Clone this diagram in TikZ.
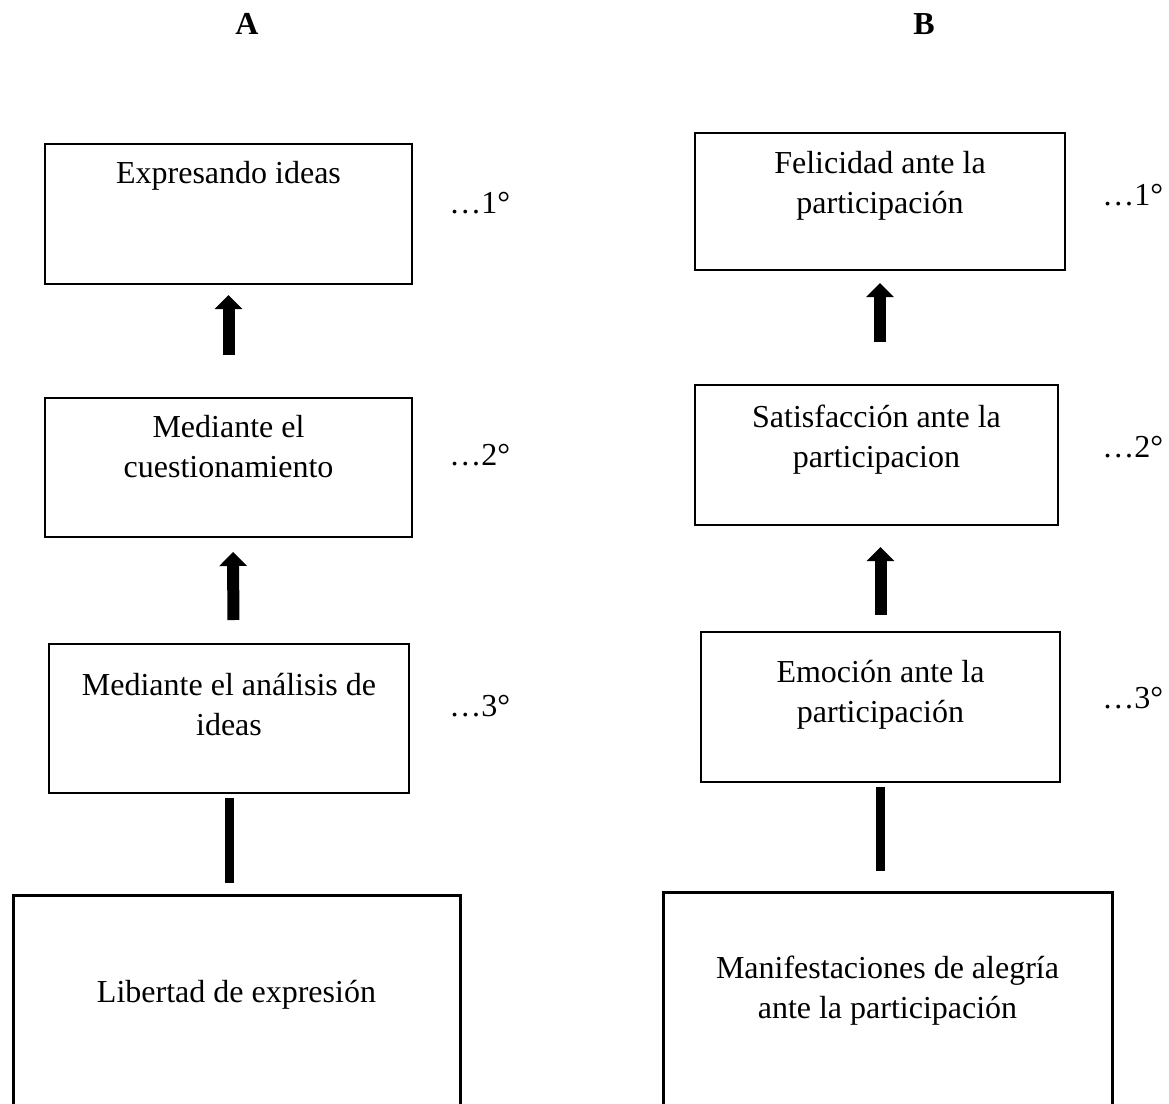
\documentclass[tikz,border=0pt]{standalone}
\usepackage{fontspec}
\setmainfont{Liberation Serif}
\usetikzlibrary{arrows.meta}

\begin{document}
\begin{tikzpicture}[x=0.5pt,y=-0.5pt,
    stage/.style={draw,line width=0.8pt,inner sep=0pt,outer sep=0pt},
    basebox/.style={draw,line width=1.5pt,inner sep=0pt,outer sep=0pt},
    txt/.style={font=\fontsize{16pt}{20pt}\selectfont,align=center,inner sep=0pt,anchor=north},
    order/.style={font=\fontsize{16pt}{20pt}\selectfont,inner sep=0pt,anchor=base west},
    colhead/.style={font=\fontsize{16pt}{20pt}\selectfont\bfseries,inner sep=0pt,anchor=base},
    uparrow/.style={line width=6pt,-{Triangle[width=13.5pt,length=7pt]}},
    stem/.style={line width=4.5pt}]
                    \clip (0,0) rectangle (1169,1104);
%                    Titles
                    \node[colhead] (colA) at (247,34) {A};
                    \node[colhead] (colB) at (924,34) {B};
%                    Column A
                    \node[stage,minimum width=183.5pt,minimum height=70pt] (a1) at (228.5,214) {};
                    \node[stage,minimum width=183.5pt,minimum height=69.5pt] (a2) at (228.5,467.5) {};
                    \node[stage,minimum width=180pt,minimum height=74.5pt] (a3) at (229,718.5) {};
                    \node[basebox,minimum width=223.5pt,minimum height=112.5pt] (a4) at (236.5,1007.5) {};
                    \node[txt] (a1t) at (228.5,161) {Expresando ideas};
                    \node[txt] (a2t) at (228.5,415) {Mediante el\\cuestionamiento};
                    \node[txt] (a3t) at (229,673) {Mediante el análisis de\\ideas};
                    \node[txt] (a4t) at (236.5,980) {Libertad de expresión};
                    \node[order] (a1o) at (449,213) {…1°};
                    \node[order] (a2o) at (449,465) {…2°};
                    \node[order] (a3o) at (449,716) {…3°};
                    \draw[uparrow,shorten <=21.5pt,shorten >=5.5pt] (a2.north) -- (a1.south);
                    \draw[uparrow,shorten <=12pt,shorten >=7.5pt] ([xshift=2.25pt]a3.north) -- ([xshift=2.25pt]a2.south);
                    \draw[stem,shorten <=6pt,shorten >=2.5pt] (a3.south |- a4.north) -- (a3.south);
%                    Column B
                    \node[stage,minimum width=185pt,minimum height=68.5pt] (b1) at (880,201.5) {};
                    \node[stage,minimum width=181.5pt,minimum height=70pt] (b2) at (876.5,455) {};
                    \node[stage,minimum width=179.5pt,minimum height=75pt] (b3) at (880.5,707) {};
                    \node[basebox,minimum width=224.5pt,minimum height=114pt] (b4) at (887.5,1006) {};
                    \node[txt] (b1t) at (880,151) {Felicidad ante la\\participación};
                    \node[txt] (b2t) at (876.5,405) {Satisfacción ante la\\participacion};
                    \node[txt] (b3t) at (880.5,660) {Emoción ante la\\participación};
                    \node[txt] (b4t) at (887.5,956) {Manifestaciones de alegría\\ante la participación};
                    \node[order] (b1o) at (1102,205) {…1°};
                    \node[order] (b2o) at (1102,457) {…2°};
                    \node[order] (b3o) at (1102,708) {…3°};
                    \draw[uparrow,shorten <=21.5pt,shorten >=6.5pt] (b2.north -| b1.south) -- (b1.south);
                    \draw[uparrow,shorten <=8.5pt,shorten >=11pt] (b3.north) -- (b3.north |- b2.south);
                    \draw[stem,shorten <=10.5pt,shorten >=2.5pt] (b3.south |- b4.north) -- (b3.south);
\end{tikzpicture}
\end{document}
